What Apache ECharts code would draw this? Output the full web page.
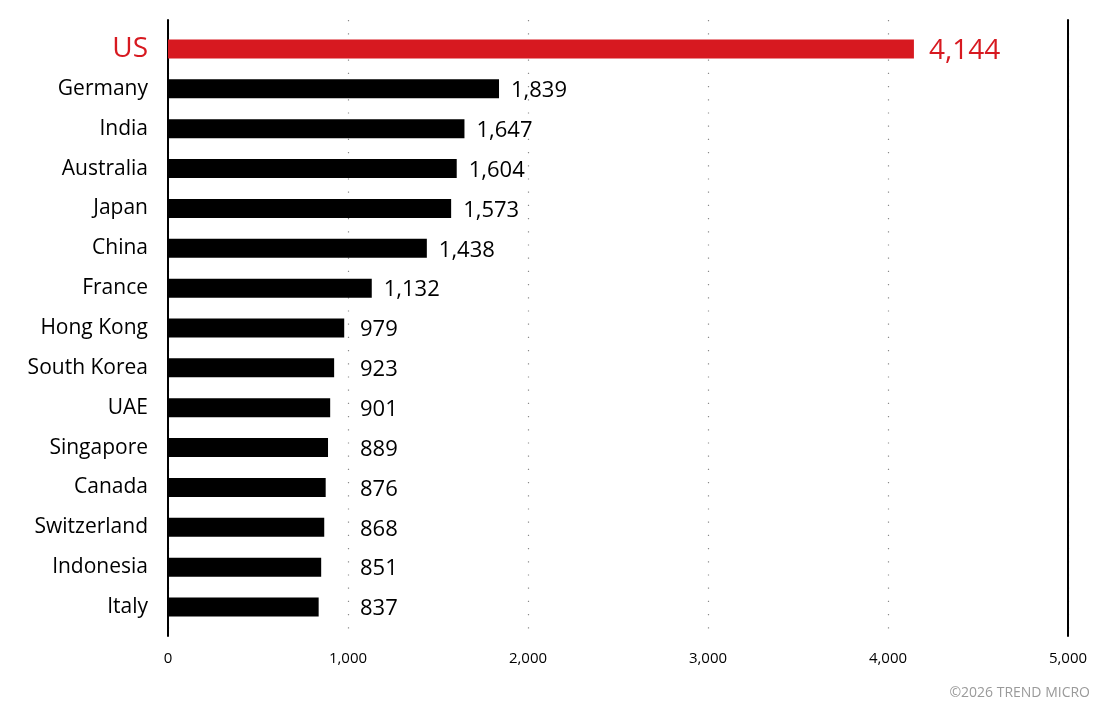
<!DOCTYPE html>
<html>
<head>
<meta charset="utf-8">
<script src="https://cdn.jsdelivr.net/npm/echarts@6/dist/echarts.min.js"></script>
<style>html,body{margin:0;padding:0;background:#fff;}#c{width:1108px;height:721px;}</style>
</head>
<body>
<div id="c"></div>
<script>
const categories = ['US','Germany','India','Australia','Japan','China','France','Hong Kong','South Korea','UAE','Singapore','Canada','Switzerland','Indonesia','Italy'];
const values = [4144,1839,1647,1604,1573,1438,1132,979,923,901,889,876,868,851,837];
const xTicks = [0,1000,2000,3000,4000,5000];
const highlight = 'US';
const labelFloor = 1000; // small-value labels sit just past the 1,000 gridline

const RED = '#d71920';
const FONT = '"Open Sans", sans-serif';
const fmt = v => v.toLocaleString('en-US');

const chart = echarts.init(document.getElementById('c'), null, {renderer:'canvas'});

const barData = values.map((v,i)=>({
  value: v,
  itemStyle: {color: categories[i]===highlight ? RED : '#000'}
}));
const labelData = values.map((v,i)=>({
  value: [Math.max(v,labelFloor), categories[i]],
  raw: v,
  label: categories[i]===highlight ? {color: RED, fontSize: 28, distance: 15} : {}
}));

chart.setOption({
  animation:false,
  backgroundColor:'#fff',
  textStyle:{fontFamily:FONT},
  graphic:[{
    type:'text', right:18, top:686,
    style:{text:'©2026 TREND MICRO', fill:'#9a9a9a', font:'14px '+FONT, textAlign:'right'}
  }],
  grid:[
    {left:168, right:40, top:20, bottom:85},
    {left:168, right:40, top:29, bottom:94}
  ],
  xAxis:[
    {gridIndex:0, type:'value', min:xTicks[0], max:xTicks[xTicks.length-1], interval:1000,
     axisLine:{show:false}, axisTick:{show:false},
     axisLabel:{color:'#000', fontSize:15, margin:15, fontFamily:FONT, formatter:v=>fmt(v)},
     splitLine:{show:true, lineStyle:{color:'#8a8a8a', width:1.2, type:[1.2,12]}}},
    {gridIndex:1, type:'value', min:xTicks[0], max:xTicks[xTicks.length-1], show:false}
  ],
  yAxis:[
    {gridIndex:0, type:'category', data:categories, inverse:true,
     axisLine:{show:true, lineStyle:{color:'#000', width:2}},
     axisTick:{show:false}, axisLabel:{show:false}, splitLine:{show:false}},
    {gridIndex:0, type:'value', position:'right', min:0, max:1,
     axisLine:{show:true, onZero:false, lineStyle:{color:'#000', width:2}},
     axisTick:{show:false}, axisLabel:{show:false}, splitLine:{show:false}},
    {gridIndex:1, type:'category', data:categories, inverse:true,
     axisLine:{show:false}, axisTick:{show:false},
     axisLabel:{margin:20, fontFamily:FONT,
       formatter:v=> v===highlight ? '{h|'+v+'}' : '{n|'+v+'}',
       rich:{
         h:{color:RED, fontSize:28, fontFamily:FONT},
         n:{color:'#000', fontSize:21, fontFamily:FONT}
       }}}
  ],
  series:[
    {type:'bar', xAxisIndex:1, yAxisIndex:2, data:barData, barWidth:19, silent:true},
    {type:'scatter', xAxisIndex:1, yAxisIndex:2, data:labelData, symbolSize:0, silent:true,
     itemStyle:{opacity:1},
     label:{show:true, position:'right', distance:12, color:'#000', fontSize:22, fontFamily:FONT,
       offset:[0,2], formatter:p=>fmt(p.data.raw)}}
  ]
});
</script>
</body>
</html>
